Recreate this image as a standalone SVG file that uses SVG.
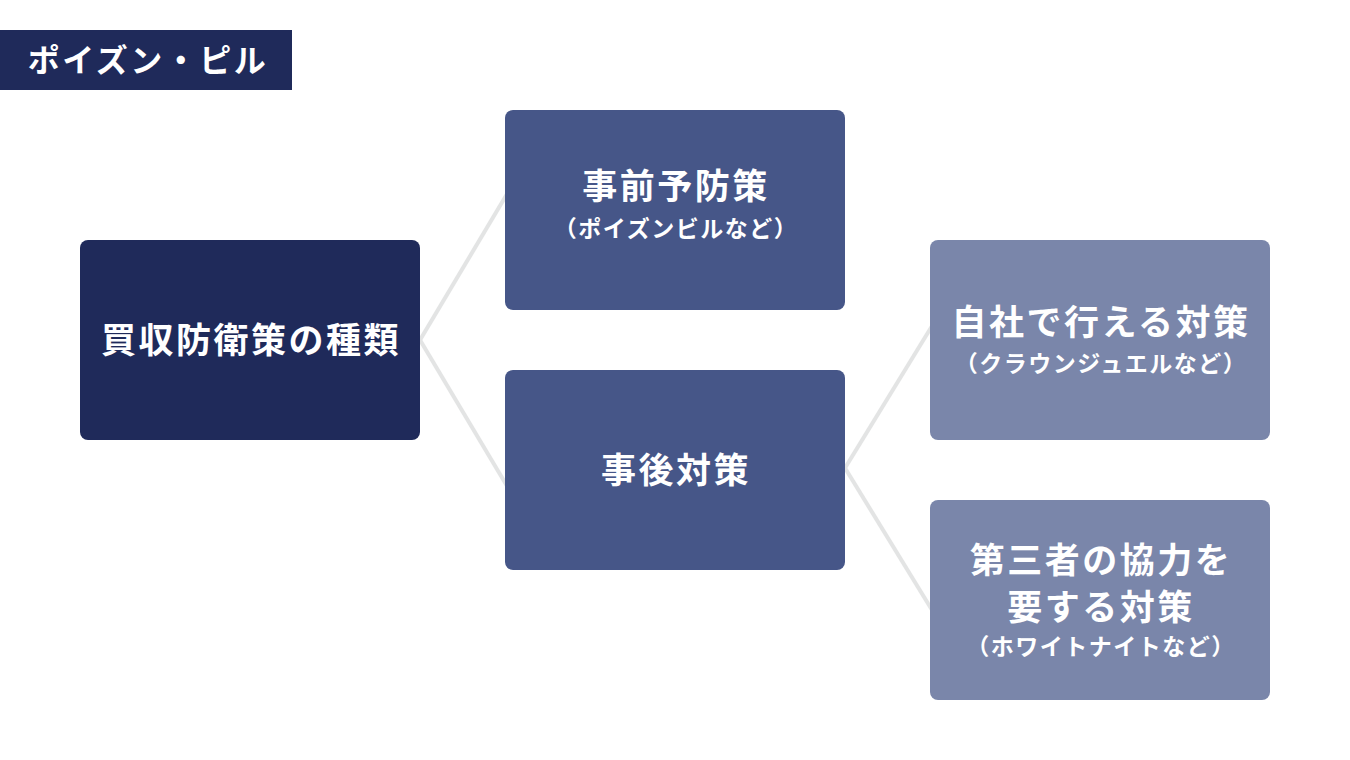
<svg xmlns="http://www.w3.org/2000/svg" width="1350" height="760" viewBox="0 0 1350 760">
<style>
.t{font-family:"Noto Sans CJK JP","Noto Sans",sans-serif;font-weight:700;fill:#ffffff;text-anchor:middle}
.m{font-size:35px;letter-spacing:2.5px}
.s{font-size:23px;letter-spacing:1.5px}
.c{stroke:#e3e4e4;stroke-width:4;fill:none}
</style>
<rect x="0" y="0" width="1350" height="760" fill="#ffffff"/>
<g id="title">
<rect x="0" y="30" width="292" height="60" fill="#1f2a5a"/>
<text class="t" x="148" y="72" style="font-size:32px;letter-spacing:2.5px">ポイズン・ピル</text>
</g>
<g id="connectors">
<line class="c" x1="420" y1="340" x2="507" y2="194"/>
<line class="c" x1="420" y1="340" x2="507" y2="486"/>
<line class="c" x1="845" y1="468" x2="932" y2="326"/>
<line class="c" x1="845" y1="468" x2="932" y2="610"/>
</g>
<g id="root">
<rect x="80" y="240" width="340" height="200" rx="8" fill="#1f2a5a"/>
<text class="t m" x="251" y="353">買収防衛策の種類</text>
</g>
<g id="pre">
<rect x="505" y="110" width="340" height="200" rx="8" fill="#465688"/>
<text class="t m" x="676" y="199">事前予防策</text>
<text class="t s" x="676" y="237">（ポイズンビルなど）</text>
</g>
<g id="post">
<rect x="505" y="370" width="340" height="200" rx="8" fill="#465688"/>
<text class="t m" x="676" y="483">事後対策</text>
</g>
<g id="self">
<rect x="930" y="240" width="340" height="200" rx="8" fill="#7a86aa"/>
<text class="t m" x="1101" y="335">自社で行える対策</text>
<text class="t s" x="1101" y="372">（クラウンジュエルなど）</text>
</g>
<g id="third">
<rect x="930" y="500" width="340" height="200" rx="8" fill="#7a86aa"/>
<text class="t m" x="1101" y="573">第三者の協力を</text>
<text class="t m" x="1101" y="620">要する対策</text>
<text class="t s" x="1101" y="655">（ホワイトナイトなど）</text>
</g>
</svg>
